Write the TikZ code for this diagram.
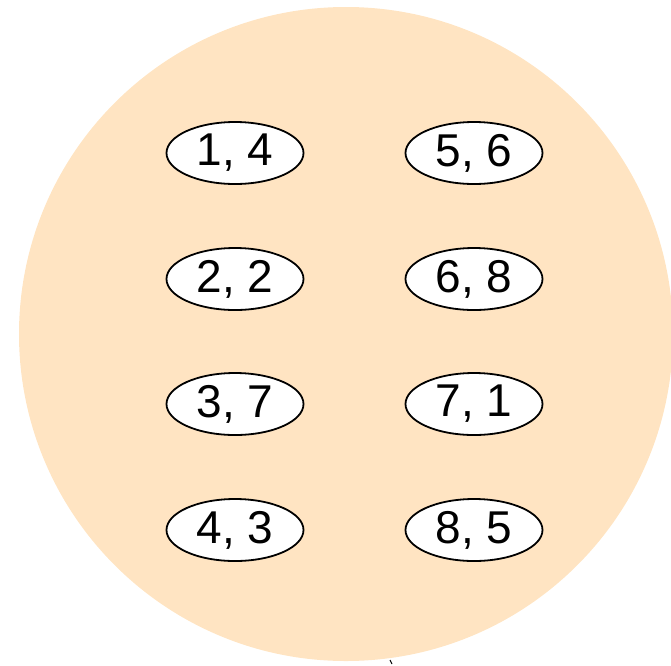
\documentclass[tikz,border=0pt]{standalone}
\usepackage{fontspec}
\setmainfont{Liberation Sans}
\usetikzlibrary{shapes.geometric}
\definecolor{peach}{HTML}{FFE4C2}
\begin{document}
\begin{tikzpicture}[x=1pt,y=-1pt,
  pair/.style={ellipse,draw=black,line width=1.8pt,fill=white,minimum width=137pt,minimum height=62pt,inner sep=0pt,font=\fontsize{46}{52}\selectfont}]
\useasboundingbox (0,0) rectangle (671,665);
\fill[peach] (346,334) circle[radius=327];
\node[pair] (a) at (235,153) {1, 4};
\node[pair] (b) at (235,279) {2, 2};
\node[pair] (c) at (235,404) {3, 7};
\node[pair] (d) at (235,530) {4, 3};
\node[pair] (e) at (474,153) {5, 6};
\node[pair] (f) at (474,279) {6, 8};
\node[pair] (g) at (474,404) {7, 1};
\node[pair] (h) at (474,530) {8, 5};
\coordinate (m1) at (390,660);
\coordinate (m2) at (392,664);
\draw[line width=1pt] (m1) -- (m2);
\end{tikzpicture}
\end{document}
